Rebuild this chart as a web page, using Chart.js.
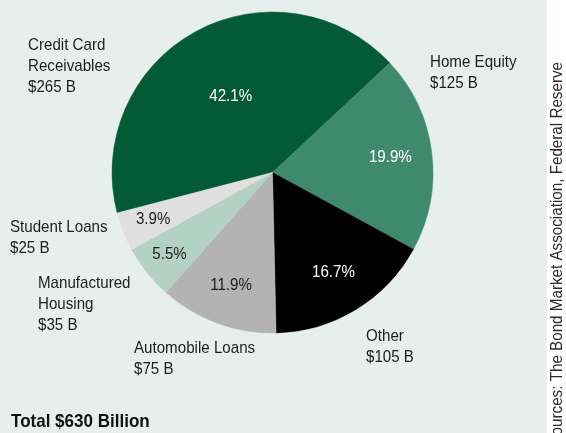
<!DOCTYPE html>
<html>
<head>
<meta charset="utf-8">
<script src="https://cdn.jsdelivr.net/npm/chart.js@4/dist/chart.umd.min.js"></script>
<style>
  html, body { margin: 0; padding: 0; background: #ffffff; overflow: hidden; }
  #wrap { width: 566px; height: 433px; }
</style>
</head>
<body>
<div id="wrap"><canvas id="abChart" width="566" height="433"></canvas></div>
<script>
// Outstanding asset-backed securities by collateral type
const categories = ['Credit Card Receivables', 'Home Equity', 'Other', 'Automobile Loans', 'Manufactured Housing', 'Student Loans'];
const labelLines = [['Credit Card', 'Receivables'], ['Home Equity'], ['Other'], ['Automobile Loans'], ['Manufactured', 'Housing'], ['Student Loans']];
const amounts = [265, 125, 105, 75, 35, 25];          // $ billions
const shares = [42.1, 19.9, 16.7, 11.9, 5.5, 3.9];    // percent of total
const totalLabel = 'Total $630 Billion';
const sourceLabel = 'Sources: The Bond Market Association, Federal Reserve';

const sliceColors = ['#035a37', '#3f8a6f', '#000000', '#b3b3b3', '#b4d1c6', '#e0e0e0'];
const pctColors = ['#ffffff', '#ffffff', '#ffffff', '#1c1c1c', '#1c1c1c', '#1c1c1c'];

// where the percentage sits along each slice's mid-angle (fraction of radius)
const pctRadius = [0.54, 0.74, 0.73, 0.75, 0.82, 0.80];
// outer label anchor (left edge, first baseline) relative to the pie centre
const outerOffset = [[-244.5, -123], [157.5, -105.5], [93.5, 168], [-138.5, 180], [-234.5, 115], [-262.5, 59]];

const FONT = '"Liberation Sans", Arial, sans-serif';
const NARROW = 0.89;
const LINE_H = 21;

function narrowText(ctx, text, x, y, sx, align) {
    ctx.save();
    ctx.translate(x, y);
    ctx.scale(sx, 1);
    ctx.textAlign = align;
    ctx.fillText(text, 0, 0);
    ctx.restore();
}

const panelPlugin = {
    id: 'panel',
    beforeDraw(chart) {
        const ctx = chart.ctx;
        ctx.save();
        ctx.fillStyle = '#ffffff';
        ctx.fillRect(0, 0, chart.width, chart.height);
        ctx.fillStyle = '#e6efec';
        ctx.fillRect(0, 0, 547, chart.height);
        ctx.restore();
    },
    afterDraw(chart) {
        const ctx = chart.ctx;
        const arcs = chart.getDatasetMeta(0).data;
        ctx.save();

        arcs.forEach((arc, i) => {
            const p = arc.getProps(['x', 'y', 'startAngle', 'endAngle', 'outerRadius'], true);
            const mid = (p.startAngle + p.endAngle) / 2;
            const r = p.outerRadius * pctRadius[i];

            // percentage inside the slice
            ctx.font = '17px ' + FONT;
            ctx.textBaseline = 'middle';
            ctx.fillStyle = pctColors[i];
            narrowText(ctx, shares[i].toFixed(1) + '%', p.x + Math.cos(mid) * r, p.y + Math.sin(mid) * r, NARROW, 'center');

            // category name and amount outside
            ctx.textBaseline = 'alphabetic';
            ctx.fillStyle = '#1e1e1e';
            const lines = labelLines[i].concat(['$' + amounts[i] + ' B']);
            const lx = p.x + outerOffset[i][0];
            const ly = p.y + outerOffset[i][1];
            lines.forEach((t, k) => narrowText(ctx, t, lx, ly + k * LINE_H, NARROW, 'left'));
        });

        // total
        ctx.font = 'bold 18.5px ' + FONT;
        ctx.fillStyle = '#111111';
        ctx.textBaseline = 'alphabetic';
        narrowText(ctx, totalLabel, 11, 427, 0.92, 'left');

        // source note, running up the right edge
        ctx.font = '16px ' + FONT;
        ctx.fillStyle = '#2a2a2a';
        ctx.translate(562, 62);
        ctx.rotate(-Math.PI / 2);
        ctx.scale(0.95, 1);
        ctx.textAlign = 'right';
        ctx.fillText(sourceLabel, 0, 0);

        ctx.restore();
    }
};

new Chart(document.getElementById('abChart'), {
    type: 'pie',
    data: {
        labels: categories,
        datasets: [{
            data: shares,
            backgroundColor: sliceColors,
            borderColor: sliceColors,
            borderWidth: 0.5
        }]
    },
    options: {
        responsive: false,
        animation: false,
        rotation: -104.6,
        radius: 160.5,
        layout: { padding: { left: 112, top: 12, right: 133, bottom: 100 } },
        plugins: {
            legend: { display: false },
            tooltip: { enabled: false }
        }
    },
    plugins: [panelPlugin]
});
</script>
</body>
</html>
